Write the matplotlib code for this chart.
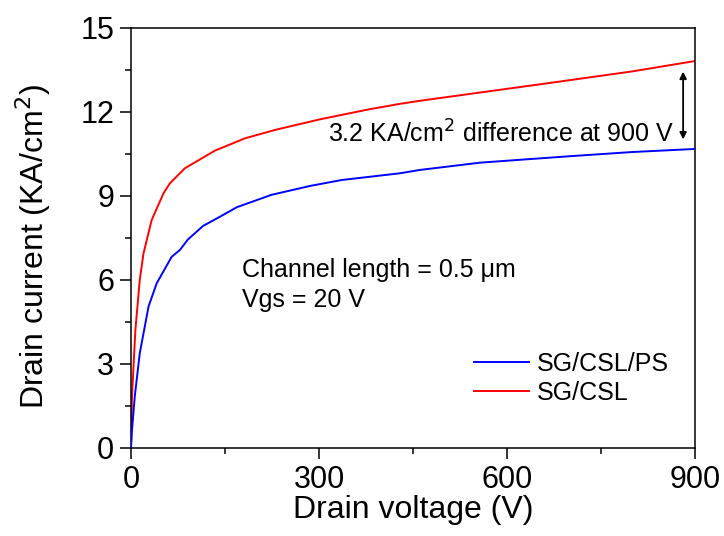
import matplotlib
matplotlib.use("Agg")
import matplotlib.pyplot as plt
from matplotlib.ticker import MultipleLocator

plt.rcParams['font.family'] = ['Liberation Sans', 'DejaVu Sans']

# Output characteristics at Vgs = 20 V
v_cslps = [0, 1.5, 6, 14, 28, 41, 65, 78, 91, 115, 142, 169, 224, 286, 336,
           429, 461, 557, 700, 800, 900]
i_cslps = [0, 0.6, 1.83, 3.38, 5.05, 5.88, 6.83, 7.07, 7.45, 7.93, 8.26, 8.6,
           9.04, 9.36, 9.57, 9.81, 9.93, 10.19, 10.42, 10.57, 10.68]

v_csl = [0, 1.6, 7, 14, 20, 33, 52, 62, 86, 134, 182, 230, 302, 381, 429,
         461, 663, 800, 900]
i_csl = [0, 1.83, 4.2, 6.0, 6.95, 8.14, 9.1, 9.45, 9.99, 10.62, 11.06, 11.36,
         11.74, 12.1, 12.29, 12.4, 13.02, 13.45, 13.82]

x_ticks = [0, 300, 600, 900]
y_ticks = [0, 3, 6, 9, 12, 15]

fig = plt.figure(figsize=(7.24, 5.36), dpi=100)
ax = fig.add_axes([0.1809, 0.1642, 0.7791, 0.7836])

ax.plot(v_cslps, i_cslps, color='#0000ff', lw=1.4, label='SG/CSL/PS', zorder=3)
ax.plot(v_csl, i_csl, color='#ff0000', lw=1.4, label='SG/CSL', zorder=2)

ax.set_xlim(0, 900)
ax.set_ylim(0, 15)
ax.set_xticks(x_ticks)
ax.set_yticks(y_ticks)
ax.xaxis.set_minor_locator(MultipleLocator(150))
ax.yaxis.set_minor_locator(MultipleLocator(1.5))
ax.tick_params(which='major', direction='out', length=8, width=1.1,
               labelsize=22, top=False, right=False, pad=4)
ax.tick_params(which='minor', direction='out', length=4.5, width=1.1,
               top=False, right=False)
for s in ax.spines.values():
    s.set_linewidth(1.1)

ax.set_xlabel('Drain voltage (V)', fontsize=23, labelpad=0)
ax.set_ylabel('Drain current (KA/cm$^2$)', fontsize=23)
ax.yaxis.set_label_coords(-0.1376, 0.48)

# Gap between the two curves at the end of the sweep
ax.annotate('', xy=(881, 13.44), xytext=(881, 11.02),
            arrowprops=dict(arrowstyle='<|-|>', color='black', lw=1.3,
                            mutation_scale=10, shrinkA=0, shrinkB=0))
ax.text(314, 10.9, '3.2 KA/cm$^{2}$ difference at 900 V', fontsize=18,
        ha='left', va='baseline')

ax.text(177, 6.1, 'Channel length = 0.5 μm', fontsize=18, ha='left', va='baseline')
ax.text(177, 5.05, 'Vgs = 20 V', fontsize=18, ha='left', va='baseline')

leg = ax.legend(loc='center left', bbox_to_anchor=(0.608, 0.165), frameon=False,
                fontsize=18, handlelength=2.2, handletextpad=0.32,
                labelspacing=0.2, borderaxespad=0, borderpad=0)

fig.savefig('out.png', dpi=100)
